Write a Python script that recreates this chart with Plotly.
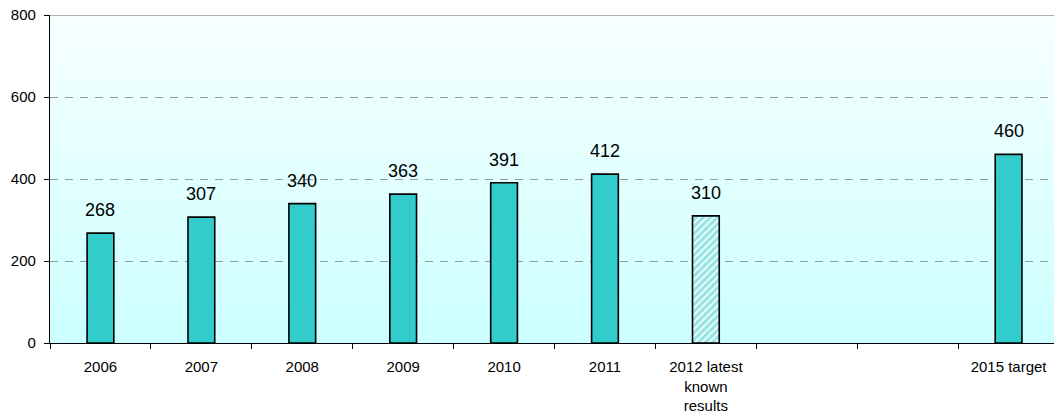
import plotly.graph_objects as go

# ---- data ----
categories = ["2006", "2007", "2008", "2009", "2010", "2011",
              "2012 latest<br>known<br>results", "", "", "2015 target"]
values = [268, 307, 340, 363, 391, 412, 310, None, None, 460]
hatched = [False, False, False, False, False, False, True, False, False, False]
y_ticks = [0, 200, 400, 600, 800]

x_pos = list(range(len(categories)))

TEAL = "#33CCCC"
FONT = "Liberation Sans, Arial, sans-serif"

fig = go.Figure()

solid_x = [x for x, v, h in zip(x_pos, values, hatched) if v is not None and not h]
solid_y = [v for v, h in zip(values, hatched) if v is not None and not h]
hatch_x = [x for x, v, h in zip(x_pos, values, hatched) if v is not None and h]
hatch_y = [v for v, h in zip(values, hatched) if v is not None and h]

fig.add_trace(go.Bar(
    x=solid_x, y=solid_y, width=0.265,
    marker=dict(color=TEAL, line=dict(color="#000000", width=1.6)),
    hoverinfo="skip",
))
fig.add_trace(go.Bar(
    x=hatch_x, y=hatch_y, width=0.265,
    marker=dict(color="#FFFFFF", line=dict(color="#000000", width=1.6),
                pattern=dict(shape="/", fgcolor=TEAL, bgcolor="#FFFFFF",
                             size=5, solidity=0.7)),
    hoverinfo="skip",
))

# value labels
for x, v in zip(x_pos, values):
    if v is None:
        continue
    fig.add_annotation(x=x, y=v, text=str(v), showarrow=False,
                       yanchor="bottom", yshift=11,
                       font=dict(family=FONT, size=18, color="#000000"))

# gradient background (style bands)
shapes = []
n = 60
top = (0xF7, 0xFF, 0xFF)
bot = (0xCC, 0xFF, 0xFF)
for i in range(n):
    t = i / (n - 1)
    c = tuple(round(bot[k] + (top[k] - bot[k]) * t) for k in range(3))
    shapes.append(dict(type="rect", xref="paper", yref="paper",
                       x0=0, x1=1, y0=i / n, y1=(i + 1) / n + 0.002,
                       fillcolor="rgb(%d,%d,%d)" % c, line=dict(width=0),
                       layer="below"))
# solid top line at max
shapes.append(dict(type="line", xref="paper", yref="y", x0=0, x1=1,
                   y0=y_ticks[-1], y1=y_ticks[-1],
                   line=dict(color="#999999", width=1.3), layer="above"))

fig.update_layout(
    width=1054, height=418,
    margin=dict(l=50, r=0, t=15, b=75),
    paper_bgcolor="#FFFFFF",
    plot_bgcolor="rgba(0,0,0,0)",
    showlegend=False,
    barmode="overlay",
    shapes=shapes,
    font=dict(family=FONT, size=15, color="#000000"),
    xaxis=dict(
        range=[-0.5, 9.45], automargin=False,
        tickvals=x_pos, ticktext=categories,
        ticks="", showgrid=False, zeroline=False,
        showline=True, linecolor="#000000", linewidth=1.3,
        tickfont=dict(family=FONT, size=15),
        ticklabelstandoff=10,
        minor=dict(ticks="outside", tick0=-0.5, dtick=1, ticklen=5,
                   tickcolor="#000000", tickwidth=1, showgrid=False),
    ),
    yaxis=dict(
        range=[0, 800], tickvals=y_ticks, automargin=False,
        ticks="outside", ticklen=5, tickcolor="#000000",
        showline=True, linecolor="#000000", linewidth=1.3,
        showgrid=True, gridcolor="#999999", gridwidth=1, griddash="8px,7px",
        zeroline=False,
        ticklabelstandoff=5, ticklabeloverflow="allow",
        tickfont=dict(family=FONT, size=15),
    ),
)

# remove the default 8px page margin so the figure sits at the window origin
fig.write_html("out.html",
               config={"displayModeBar": False},
               post_script="document.body.style.margin='0';")
